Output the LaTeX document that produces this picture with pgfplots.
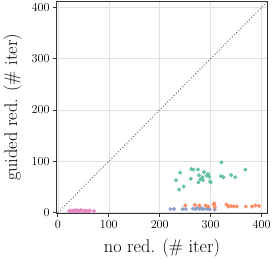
\documentclass[border=0pt]{standalone}
\usepackage{pgfplots}
\pgfplotsset{compat=1.18}
\definecolor{cgreen}{RGB}{102,194,165}
\definecolor{corange}{RGB}{252,141,98}
\definecolor{cblue}{RGB}{141,160,203}
\definecolor{cpink}{RGB}{231,138,195}
\begin{document}
\begin{tikzpicture}
\begin{axis}[
  scale only axis,
  width=208pt, height=209pt,
  xmin=-3, xmax=412, ymin=-2, ymax=412,
  xtick={0,100,200,300,400}, ytick={0,100,200,300,400},
  tick align=outside, tick pos=left,
  major tick length=3pt,
  grid=major,
  major grid style={black!12, line width=0.5pt},
  axis line style={black!80, line width=0.8pt},
  tick style={black!80, line width=0.6pt},
  ticklabel style={font=\fontsize{12}{14}\selectfont},
  label style={font=\fontsize{18}{21}\selectfont},
  xlabel={no red. (\# iter)},
  ylabel={guided red. (\# iter)},
  xlabel style={yshift=-4pt},
  ylabel style={yshift=3pt},
  every axis plot/.append style={only marks, mark=*, mark size=1.8pt},
]
\addplot[black!55, dotted, line width=1pt, no marks, sharp plot] coordinates {(0,0) (412,412)};
% green
\addplot[color=cgreen, mark options={draw=cgreen, fill=cgreen}] coordinates {
(240,78) (232,63) (247,51) (238,45) (262,85) (261,66) (275,84) (277,73)
(287,79) (284,69) (280,65) (276,59) (292,72) (295,75) (297,70) (299,61)
(321,98) (368,84) (340,73) (348,69) (320,71) (325,69) (285,63) (266,84) (300,59)
};
% blue
\addplot[color=cblue, mark options={draw=cblue, fill=cblue}] coordinates {
(221,7) (228,7) (245,7) (251,7) (265,8) (270,7) (274,9) (278,7) (282,8)
(285,7) (291,8) (295,7) (298,7) (308,6)
};
% orange
\addplot[color=corange, mark options={draw=corange, fill=corange}] coordinates {
(250,14) (269,15) (278,14) (290,14) (295,12) (306,16) (307,18) (308,11)
(331,16) (335,12) (340,13) (345,12) (351,12) (369,12) (381,12) (388,14) (395,13)
};
% pink
\addplot[color=cpink, mark options={draw=cpink, fill=cpink}] coordinates {
(22,3) (25,4) (28,3) (31,4) (34,3) (36,5) (38,3) (41,4) (43,3) (45,5)
(48,3) (50,4) (53,3) (56,4) (60,3) (63,4) (71,3)
};
\end{axis}
\end{tikzpicture}
\end{document}
